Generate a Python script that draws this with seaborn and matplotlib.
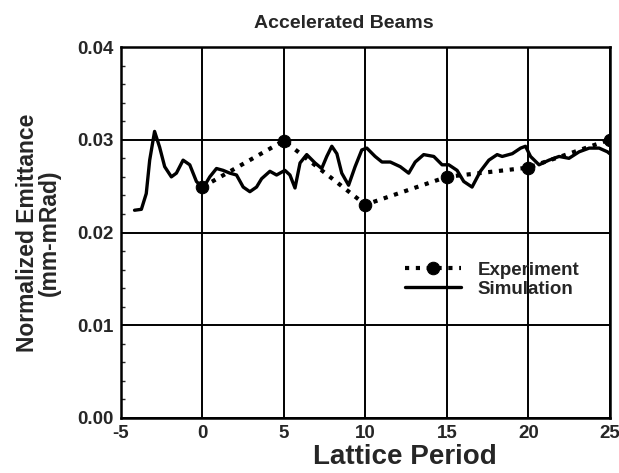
import matplotlib
matplotlib.use("Agg")
import matplotlib.pyplot as plt
import seaborn as sns
import pandas as pd
from matplotlib.ticker import MultipleLocator

sim_x = [-4.17, -3.75, -3.45, -3.24, -2.94, -2.63, -2.32, -1.91, -1.6, -1.19, -0.78,
         -0.37, 0.04, 0.45, 0.86, 1.27, 1.68, 2.09, 2.5, 2.91, 3.32, 3.63, 4.14, 4.55,
         5.06, 5.37, 5.68, 5.99, 6.4, 6.91, 7.32, 7.63, 7.94, 8.25, 8.55, 8.97, 9.37,
         9.78, 10.09, 10.6, 11.02, 11.53, 12.14, 12.66, 13.06, 13.58, 14.2, 14.71,
         15.12, 15.63, 16.04, 16.55, 17.06, 17.58, 18.09, 18.4, 19.02, 19.53, 19.83,
         20.14, 20.66, 21.27, 21.89, 22.5, 23.12, 23.74, 24.35, 24.86, 25.0]
sim_y = [0.0224, 0.0225, 0.0242, 0.0278, 0.0309, 0.0292, 0.0271, 0.0260, 0.0264,
         0.0278, 0.0273, 0.0255, 0.0248, 0.0260, 0.0269, 0.0267, 0.0264, 0.0262,
         0.0249, 0.0244, 0.0249, 0.0258, 0.0266, 0.0262, 0.0267, 0.0262, 0.0248,
         0.0275, 0.0284, 0.0275, 0.0269, 0.0282, 0.0293, 0.0285, 0.0264, 0.0251,
         0.0271, 0.0289, 0.0291, 0.0282, 0.0276, 0.0276, 0.0271, 0.0264, 0.0276,
         0.0284, 0.0282, 0.0273, 0.0273, 0.0267, 0.0255, 0.0249, 0.0266, 0.0278,
         0.0284, 0.0282, 0.0285, 0.0291, 0.0293, 0.0282, 0.0273, 0.0278, 0.0282,
         0.0280, 0.0287, 0.0291, 0.0291, 0.0287, 0.0285]

exp_x = [0, 5, 10, 15, 20, 25]
exp_y = [0.0249, 0.0299, 0.0230, 0.0260, 0.0270, 0.0300]

x_ticks = [-5, 0, 5, 10, 15, 20, 25]
x_tick_labels = ["-5", "0", "5", "10", "15", "20", "25"]
y_ticks = [0.00, 0.01, 0.02, 0.03, 0.04]
y_tick_labels = ["0.00", "0.01", "0.02", "0.03", "0.04"]

sns.set_style("white")
plt.rcParams['font.family'] = ['Liberation Sans', 'DejaVu Sans']
plt.rcParams['font.weight'] = 'bold'

fig = plt.figure(figsize=(6.19, 4.73), dpi=100)
ax = fig.add_axes([0.1955, 0.1163, 0.7895, 0.7843])

sim_df = pd.DataFrame({"x": sim_x, "y": sim_y})
exp_df = pd.DataFrame({"x": exp_x, "y": exp_y})

sns.lineplot(data=exp_df, x="x", y="y", ax=ax, color="black", linestyle=(0, (1.0, 1.6)),
             linewidth=3.0, marker="o", markersize=9, markeredgecolor="black",
             label="Experiment", zorder=4)
sns.lineplot(data=sim_df, x="x", y="y", ax=ax, color="black", linewidth=2.4,
             label="Simulation", zorder=3)
for ln in ax.lines:
    ln.set_solid_joinstyle('round')
    ln.set_solid_capstyle('round')

ax.set_xlim(-5, 25)
ax.set_ylim(0, 0.04)
ax.set_xticks(x_ticks)
ax.set_xticklabels(x_tick_labels)
ax.set_yticks(y_ticks)
ax.set_yticklabels(y_tick_labels)
ax.yaxis.set_minor_locator(MultipleLocator(0.002))
ax.tick_params(axis='both', which='major', direction='in', length=4, width=1.2,
               labelsize=13.5, pad=5)
ax.tick_params(axis='y', which='minor', direction='in', length=3, width=1, left=True)
for lab in ax.get_xticklabels() + ax.get_yticklabels():
    lab.set_fontweight('bold')

ax.grid(True, which='major', color='black', linewidth=1.4)
for s in ax.spines.values():
    s.set_color('black')
    s.set_linewidth(1.8)

ax.set_xlabel("Lattice Period", fontsize=20, fontweight='bold', labelpad=1)
ax.xaxis.set_label_coords(0.58, -0.07, transform=ax.transAxes)
ax.xaxis.label.set_va('top')
ax.set_ylabel("Normalized Emittance\n(mm-mRad)", fontsize=16.5, fontweight='bold',
              labelpad=12, linespacing=0.95)
ax.set_title("Accelerated Beams", fontsize=14, fontweight='bold', pad=14, x=0.455)

leg = ax.legend(loc='upper left', bbox_to_anchor=(0.565, 0.441), frameon=False,
                fontsize=13.5, handlelength=3.0, borderaxespad=0, labelspacing=0.1,
                handletextpad=0.9)
for t in leg.get_texts():
    t.set_fontweight('bold')

fig.savefig("out.png", dpi=100, facecolor="white")
